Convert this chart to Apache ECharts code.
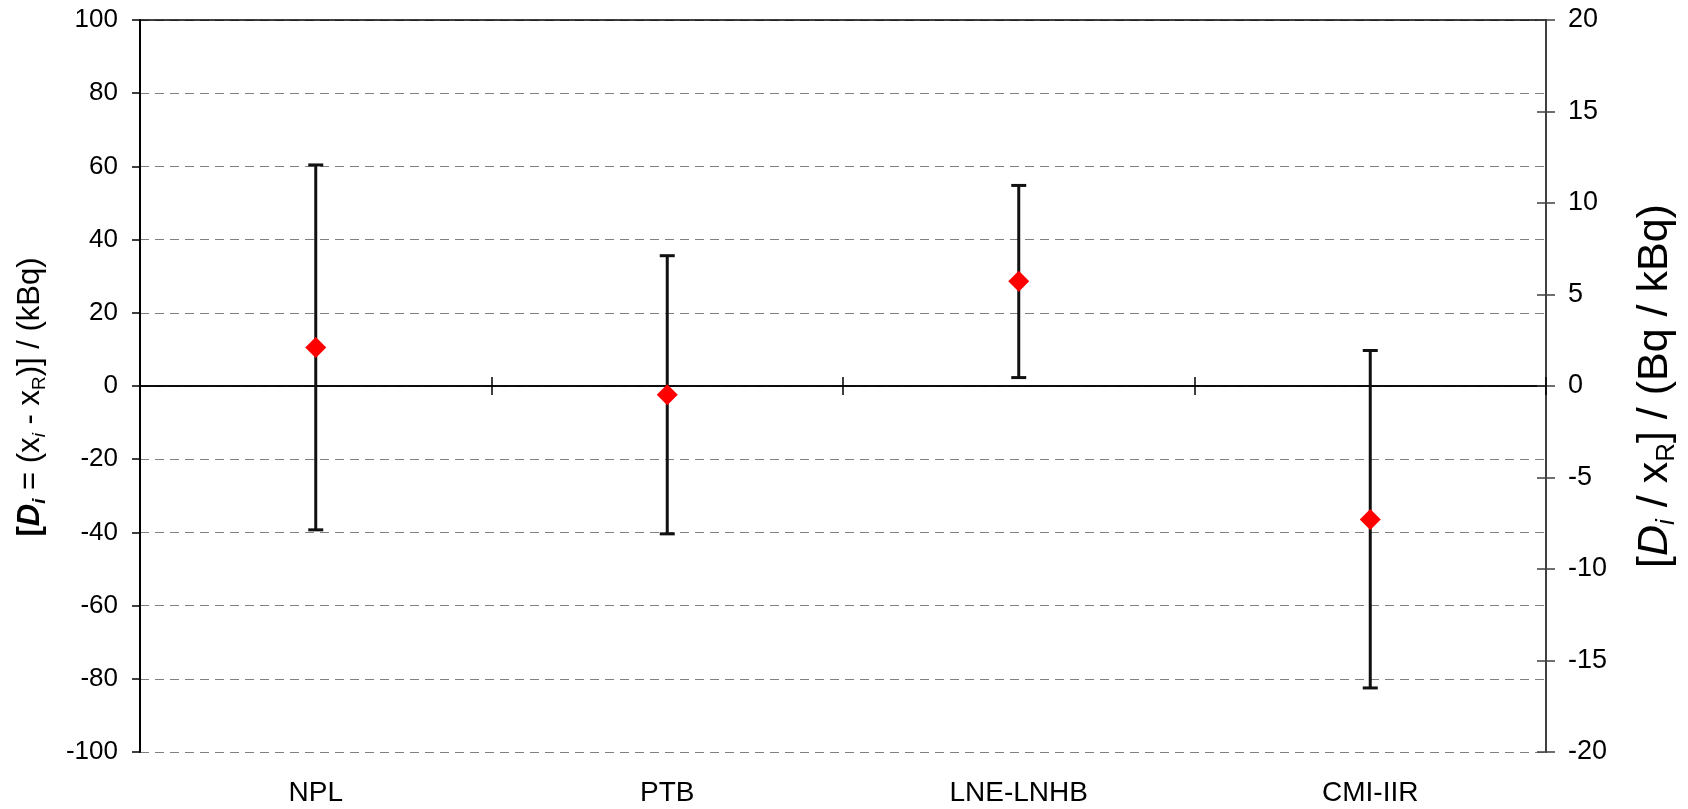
<!DOCTYPE html>
<html>
<head>
<meta charset="utf-8">
<script src="https://cdn.jsdelivr.net/npm/echarts@6/dist/echarts.min.js"></script>
<style>
  html, body { margin: 0; padding: 0; background: #fff; }
  #chart { width: 1688px; height: 809px; }
</style>
</head>
<body>
<div id="chart"></div>
<script>
// labs and their degrees of equivalence (kBq)
var labs = ['NPL', 'PTB', 'LNE-LNHB', 'CMI-IIR'];
var di = [10.5, -2.4, 28.6, -36.5];
var diUpper = [60.4, 35.6, 54.8, 9.7];
var diLower = [-39.3, -40.4, 2.3, -82.5];

var leftTicks = { min: -100, max: 100, step: 20 };
var rightTicks = { min: -20, max: 20, step: 5 };

var font = 'Liberation Sans, Arial, sans-serif';

var chart = echarts.init(document.getElementById('chart'));

var bars = labs.map(function (name, i) {
    return [i, diUpper[i], diLower[i]];
});

function errorBar(params, api) {
    var i = api.value(0);
    var top = api.coord([i, api.value(1)]);
    var bot = api.coord([i, api.value(2)]);
    var half = 7.5;
    var style = { stroke: '#111', lineWidth: 3 };
    return {
        type: 'group',
        children: [
            { type: 'line', shape: { x1: top[0], y1: top[1], x2: bot[0], y2: bot[1] }, style: style },
            { type: 'line', shape: { x1: top[0] - half, y1: top[1], x2: top[0] + half, y2: top[1] }, style: style },
            { type: 'line', shape: { x1: bot[0] - half, y1: bot[1], x2: bot[0] + half, y2: bot[1] }, style: style }
        ]
    };
}

var zeroAxis = function (inside) {
    return {
        type: 'category',
        data: labs,
        position: 'bottom',
        axisLine: { show: true, onZero: true, onZeroAxisIndex: 0, lineStyle: { color: '#000', width: 1.5 } },
        axisTick: { show: true, inside: inside, length: 9, lineStyle: { color: '#000', width: 1.5 } },
        axisLabel: { show: false },
        splitLine: { show: false }
    };
};

var rightAxis = function (inside) {
    return {
        type: 'value',
        position: 'right',
        min: rightTicks.min,
        max: rightTicks.max,
        interval: rightTicks.step,
        axisLine: { show: true, lineStyle: { color: '#404040', width: 2 } },
        axisTick: { show: true, inside: inside, length: 9, lineStyle: { color: '#404040', width: 1.5 } },
        axisLabel: { show: !inside, margin: 22, color: '#000', fontSize: 27, fontFamily: font },
        splitLine: { show: false }
    };
};

var right0 = rightAxis(false);
right0.name = '{n|[}{it|D}{itsub|i}{n| / x}{sub|R}{n|] / (Bq / kBq)}';
right0.nameLocation = 'middle';
right0.nameRotate = 90;
right0.nameGap = 84;
right0.nameTextStyle = {
    color: '#000',
    fontFamily: font,
    rich: {
        n: { fontSize: 43, lineHeight: 50, fontFamily: font, color: '#000' },
        it: { fontSize: 43, lineHeight: 50, fontStyle: 'italic', fontFamily: font, color: '#000' },
        itsub: { fontSize: 26, lineHeight: 26, fontStyle: 'italic', verticalAlign: 'bottom', fontFamily: font, color: '#000' },
        sub: { fontSize: 26, lineHeight: 26, verticalAlign: 'bottom', fontFamily: font, color: '#000' }
    }
};

var option = {
    backgroundColor: '#fff',
    animation: false,
    grid: { left: 140, right: 138, top: 20, bottom: 57, containLabel: false },
    xAxis: [
        {
            type: 'category',
            data: labs,
            position: 'bottom',
            axisLine: { show: false, onZero: false },
            axisTick: { show: false },
            axisLabel: { margin: 27, color: '#000', fontSize: 28, fontFamily: font },
            splitLine: { show: false }
        },
        zeroAxis(false),
        zeroAxis(true),
        {
            type: 'category',
            data: labs,
            position: 'top',
            axisLine: { show: true, onZero: false, lineStyle: { color: '#000', width: 1.5 } },
            axisTick: { show: false },
            axisLabel: { show: false },
            splitLine: { show: false }
        }
    ],
    yAxis: [
        {
            type: 'value',
            position: 'left',
            min: leftTicks.min,
            max: leftTicks.max,
            interval: leftTicks.step,
            axisLine: { show: true, onZero: false, lineStyle: { color: '#000', width: 2 } },
            axisTick: { show: true, length: 8, lineStyle: { color: '#000', width: 1.5 } },
            axisLabel: { margin: 22, color: '#000', fontSize: 26, fontFamily: font },
            splitLine: { show: true, lineStyle: { color: '#808080', width: 1.2, type: [9, 6] } },
            name: '{b|[}{bi|D}{bisub|i}{n| = (x}{isub|i}{n| - x}{sub|R}{n|)] / (kBq)}',
            nameLocation: 'middle',
            nameRotate: 90,
            nameGap: 91,
            nameTextStyle: {
                color: '#000',
                fontFamily: font,
                padding: [0, 22, 0, 0],
                rich: {
                    n: { fontSize: 31, lineHeight: 37, fontFamily: font, color: '#000' },
                    b: { fontSize: 31, lineHeight: 37, fontWeight: 'bold', fontFamily: font, color: '#000' },
                    bi: { fontSize: 31, lineHeight: 37, fontWeight: 'bold', fontStyle: 'italic', fontFamily: font, color: '#000' },
                    bisub: { fontSize: 19, lineHeight: 19, fontWeight: 'bold', fontStyle: 'italic', verticalAlign: 'bottom', fontFamily: font, color: '#000' },
                    isub: { fontSize: 19, lineHeight: 19, fontStyle: 'italic', verticalAlign: 'bottom', fontFamily: font, color: '#000' },
                    sub: { fontSize: 19, lineHeight: 19, verticalAlign: 'bottom', fontFamily: font, color: '#000' }
                }
            }
        },
        right0,
        rightAxis(true)
    ],
    series: [
        {
            type: 'custom',
            xAxisIndex: 0,
            yAxisIndex: 0,
            renderItem: errorBar,
            encode: { x: 0, y: [1, 2] },
            data: bars,
            z: 3
        },
        {
            type: 'scatter',
            xAxisIndex: 0,
            yAxisIndex: 0,
            symbol: 'diamond',
            symbolSize: 21,
            itemStyle: { color: '#ff0000', opacity: 1 },
            data: di,
            z: 4
        }
    ]
};

chart.setOption(option);
</script>
</body>
</html>
